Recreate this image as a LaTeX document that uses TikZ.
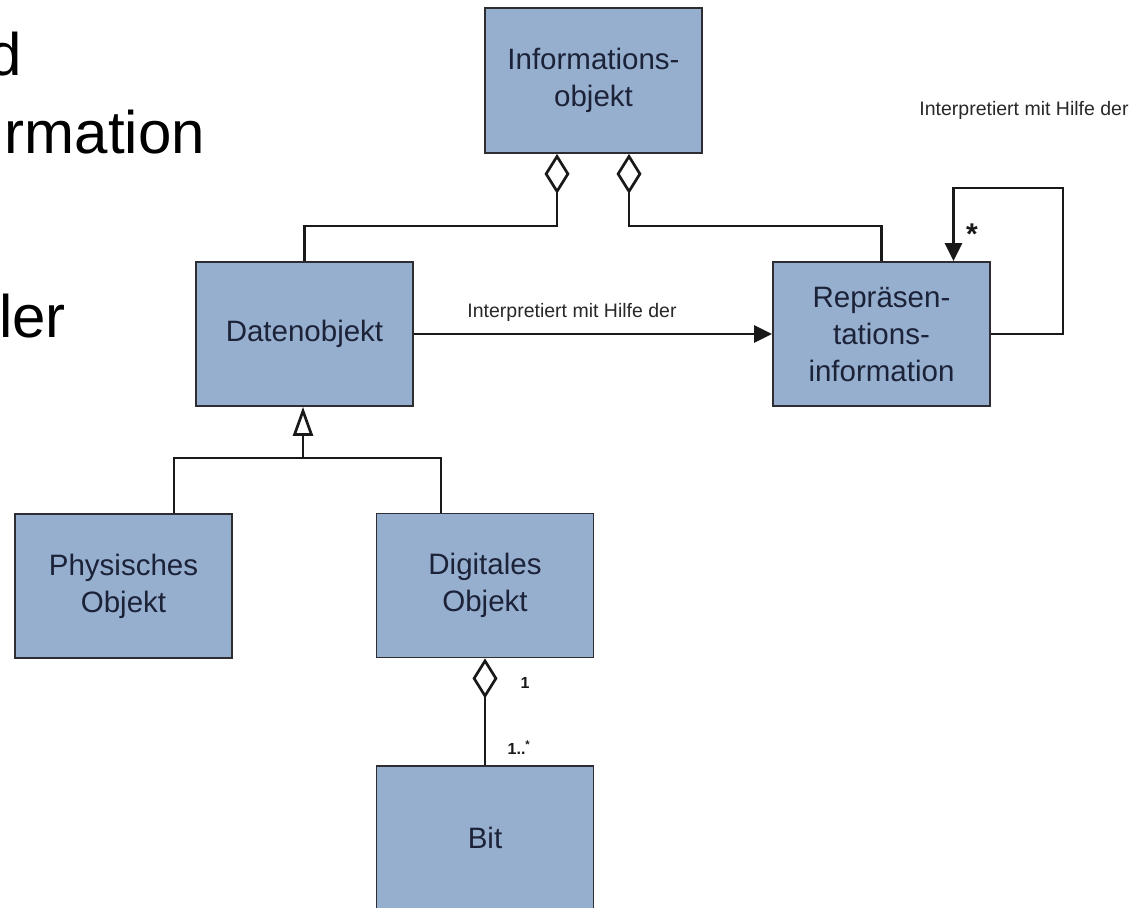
\documentclass[tikz,border=0pt]{standalone}
\usepackage{fontspec}
\setmainfont{Liberation Sans}
\usetikzlibrary{arrows.meta}
\definecolor{boxfill}{RGB}{150,175,207}
\definecolor{boxline}{RGB}{45,45,50}
\definecolor{boxtext}{RGB}{28,34,56}
\definecolor{conn}{RGB}{25,25,25}
\definecolor{lbltext}{RGB}{40,40,40}
\begin{document}
\begin{tikzpicture}[x=1pt,y=-1pt,
  umlbox/.style={draw=boxline, fill=boxfill, line width=1.8pt, minimum width=217pt, minimum height=144pt, inner sep=0pt, align=center, text=boxtext, font=\fontsize{29.5}{37}\selectfont},
  conline/.style={draw=conn, line width=2.7pt},
  aggr/.style={conline, {Diamond[open, length=40pt, width=25pt]}-},
  genl/.style={conline, {Triangle[open, length=29pt, width=20pt]}-},
  assoc/.style={conline, -{Triangle[length=18pt, width=17pt]}},
  lbl/.style={text=lbltext, font=\fontsize{19.5}{22}\selectfont, inner sep=0pt},
  mult/.style={text=conn, font=\bfseries\fontsize{16}{18}\selectfont, inner sep=0pt},
  bigtext/.style={text=black, font=\fontsize{60}{66}\selectfont, inner sep=0pt, anchor=base east}
]
\path[use as bounding box, fill=white] (0,0) rectangle (1137,907);
\clip (0,0) rectangle (1137,907);

% cut-off slide text on the left
\node[bigtext] (t1) at (22,75) {d};
\node[bigtext] (t2) at (205,153) {rmation};
\node[bigtext] (t3) at (66,337) {ler};

% boxes
\node[umlbox, minimum height=145pt] (info) at (593.5,80.5) {Informations-\\objekt};
\node[umlbox] (daten) at (304.5,334) {Datenobjekt};
\node[umlbox] (rep) at (881.5,334) {Repräsen-\\tations-\\information};
\node[umlbox] (phys) at (123.5,586) {Physisches\\Objekt};
\node[umlbox] (digi) at (485,585.5) {Digitales\\Objekt};
\node[umlbox] (bit) at (485,838) {Bit};

% aggregations to Informationsobjekt
\draw[aggr] ([xshift=-36.5pt]info.south) -- ++(0,72) -| (daten.north);
\draw[aggr] ([xshift=35.5pt]info.south) -- ++(0,72) -| (rep.north);

% association Datenobjekt -> Repraesentationsinformation
\draw[assoc] (daten.east) -- (rep.west);
\node[lbl] (l1) at (572,312) {Interpretiert mit Hilfe der};

% self association
\draw[assoc] (rep.east) -- ++(72,0) |- ([xshift=72pt,yshift=73pt]rep.north) -- ([xshift=72pt]rep.north);
\node[lbl] (l2) at (1024,110) {Interpretiert mit Hilfe der};
\node[mult, font=\bfseries\fontsize{30}{30}\selectfont] (star) at (972,234) {*};

% generalization
\draw[genl] ([xshift=-1.5pt]daten.south) -- ++(0,51) coordinate (gj);
\draw[conline] ([xshift=50.5pt]phys.north) |- (gj) -| ([xshift=-44pt]digi.north);

% Digitales Objekt <>-- Bit
\draw[aggr] (digi.south) -- (bit.north);
\node[mult] (m1) at (525,683) {1};
\node[mult] (m2) at (519,748) {1..\textsuperscript{*}};
\end{tikzpicture}
\end{document}
